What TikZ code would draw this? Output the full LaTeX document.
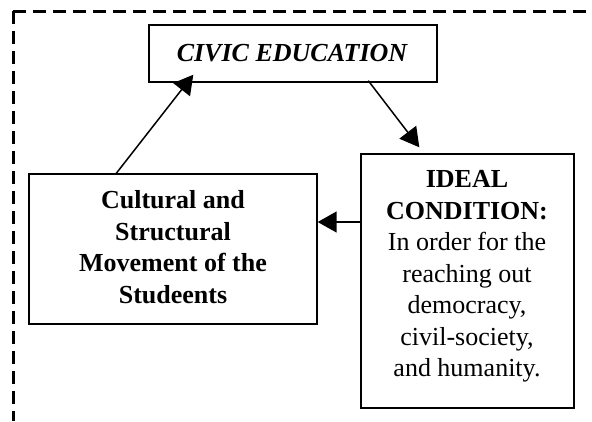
\documentclass[tikz,border=0pt]{standalone}
\usepackage{fontspec}
\setmainfont{Liberation Serif}
\usetikzlibrary{arrows.meta}
\tikzset{
  box/.style={draw, line width=1.4pt, inner sep=0pt},
  txt/.style={align=center, inner sep=0pt, font=\fontsize{26}{31.5}\selectfont},
  arr/.style={line width=1.5pt, -{Triangle[length=19pt,width=21pt]}},
  frame/.style={line width=3pt, dash pattern=on 13pt off 7pt}
}
\begin{document}
\begin{tikzpicture}[x=1pt,y=-1pt]
\useasboundingbox (0,0) rectangle (592,421);
% dashed frame (top and left edges)
\draw[frame] (13,11) -- (592,11);
\draw[frame] (13,11) -- (13,421);
% boxes
\node[box, minimum width=288pt, minimum height=57pt] (civic) at (293,53.5) {};
\node[txt, font=\fontsize{26}{31.5}\selectfont\bfseries\itshape] (civict) at (292,53.5) {CIVIC EDUCATION};
\node[box, minimum width=288pt, minimum height=150pt] (left) at (173,249) {};
\node[txt, font=\fontsize{26}{31.5}\selectfont\bfseries] (leftt) at (173,247) {Cultural and\\Structural\\Movement of the\\Studeents};
\node[box, minimum width=213pt, minimum height=254pt] (right) at (467.5,281) {};
\node[txt] (rightt) at (467,276.5) {\textbf{IDEAL}\\\textbf{CONDITION:}\\In order for the\\reaching out\\democracy,\\civil-society,\\and humanity.};
% connectors
\draw[arr] ([xshift=88pt]left.north west) -- ([xshift=45pt,yshift=8pt]civic.south west);
\draw[arr] ([xshift=220pt,yshift=2pt]civic.south west) -- ([xshift=59pt,yshift=6pt]right.north west);
\draw[arr] ([yshift=59pt]right.west) -- ([yshift=27pt]left.east);
\end{tikzpicture}
\end{document}
